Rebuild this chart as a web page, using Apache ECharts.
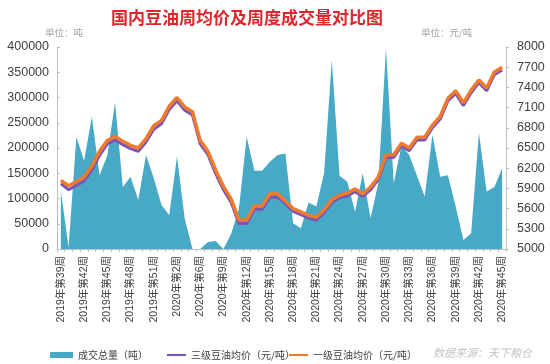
<!DOCTYPE html>
<html>
<head>
<meta charset="utf-8">
<script src="https://cdn.jsdelivr.net/npm/echarts@6/dist/echarts.min.js"></script>
<style>
html,body{margin:0;padding:0;background:#fff;}
#chart{width:550px;height:364px;}
</style>
</head>
<body>
<div id="chart"></div>
<script>
const categories = [
"2019年第39周","2019年第40周","2019年第41周","2019年第42周","2019年第43周","2019年第44周","2019年第45周",
"2019年第46周","2019年第47周","2019年第48周","2019年第49周","2019年第50周","2019年第51周","2019年第52周",
"2020年第1周","2020年第2周","2020年第3周","2020年第5周","2020年第6周","2020年第7周","2020年第8周",
"2020年第9周","2020年第10周","2020年第11周","2020年第12周","2020年第13周","2020年第14周","2020年第15周",
"2020年第16周","2020年第17周","2020年第18周","2020年第19周","2020年第20周","2020年第21周","2020年第22周",
"2020年第23周","2020年第24周","2020年第25周","2020年第26周","2020年第27周","2020年第28周","2020年第29周",
"2020年第30周","2020年第31周","2020年第32周","2020年第33周","2020年第34周","2020年第35周","2020年第36周",
"2020年第37周","2020年第38周","2020年第39周","2020年第40周","2020年第41周","2020年第42周","2020年第43周",
"2020年第44周","2020年第45周"
];
const volume = [
115000,3000,222000,175000,262000,146000,185000,290000,123000,143000,97000,186000,140000,87000,
67000,183000,60000,0,0,14000,16000,0,30000,80000,222000,155000,155000,173000,186000,189000,
51000,41000,92000,84000,150000,374000,145000,133000,74000,150000,61000,130000,397000,130000,
205000,186000,145000,104000,226000,143000,146000,84000,18000,31000,230000,114000,123000,160000
];
const grade3Price = [
5970,5880,5945,6010,6170,6390,6560,6620,6550,6490,6450,6590,6780,6860,7070,7200,7060,6990,6560,
6400,6120,5880,5690,5380,5380,5590,5590,5770,5770,5670,5560,5510,5460,5430,5540,5690,5760,5790,
5850,5780,5880,6030,6360,6360,6530,6460,6620,6620,6800,6930,7200,7310,7130,7320,7470,7350,7590,7660
];
const grade1Price = [
6020,5940,6000,6070,6230,6450,6610,6670,6600,6540,6500,6640,6830,6910,7120,7250,7110,7040,6610,
6450,6170,5930,5740,5430,5430,5640,5640,5820,5820,5710,5600,5550,5500,5470,5580,5730,5800,5830,
5890,5820,5920,6070,6400,6400,6570,6500,6660,6660,6840,6970,7240,7350,7170,7360,7510,7390,7630,7700
];
const rightTicks = [5000,5300,5600,5900,6200,6500,6800,7100,7400,7700,8000];
const seriesNames = ["成交总量（吨）","三级豆油均价（元/吨）","一级豆油均价（元/吨）"];

const FONT = '"Liberation Sans","Noto Sans CJK SC",sans-serif';
const CJK = '"Noto Sans CJK SC",sans-serif';
const legendText = {color:'#404040', fontSize:10, fontFamily:CJK};
const lineIcon = 'path://M0,0L36,0L36,4L0,4Z';
const chart = echarts.init(document.getElementById('chart'), null, {renderer:'canvas'});
chart.setOption({
  animation:false,
  backgroundColor:'#fff',
  title:{
    text:'国内豆油周均价及周度成交量对比图',
    left:106, top:4,
    textStyle:{color:'#e0262d', fontSize:17, fontWeight:'bold', fontFamily:CJK}
  },
  graphic:[
    {type:'text', left:45, top:28, style:{text:'单位：吨', fill:'#a6a6a6', fontSize:9.5, fontFamily:CJK}},
    {type:'text', left:421, top:28, style:{text:'单位：元/吨', fill:'#a6a6a6', fontSize:9.5, fontFamily:CJK}},
    {type:'text', left:433, top:347, style:{text:'数据来源：天下粮仓', fill:'#c4c4c4', fontSize:11, fontStyle:'italic', fontFamily:CJK}}
  ],
  legend:[
    {left:45, top:345, itemWidth:23, itemHeight:6, itemGap:3, textStyle:legendText,
     data:[{name:seriesNames[0], icon:'rect'}]},
    {left:162, top:345, itemWidth:19, itemHeight:6, itemGap:3, textStyle:legendText,
     data:[{name:seriesNames[1], icon:lineIcon}]},
    {left:284, top:345, itemWidth:19, itemHeight:6, itemGap:3, textStyle:legendText,
     data:[{name:seriesNames[2], icon:lineIcon}]}
  ],
  grid:{left:57, right:44, top:47, bottom:115},
  xAxis:{
    type:'category', data:categories, boundaryGap:true,
    axisLine:{lineStyle:{color:'#bfbfbf'}},
    axisTick:{show:true, interval:0, length:3, lineStyle:{color:'#bfbfbf'}},
    axisLabel:{interval:2, rotate:90, color:'#404040', fontSize:10.5, fontFamily:FONT, margin:7}
  },
  yAxis:[
    {
      type:'value', min:0, max:400000, interval:50000, position:'left',
      splitLine:{show:false},
      axisLine:{show:true, lineStyle:{color:'#bfbfbf'}},
      axisTick:{show:true, inside:true, length:3, lineStyle:{color:'#bfbfbf'}},
      axisLabel:{color:'#404040', fontSize:12.5, fontFamily:FONT, margin:8, formatter:function(v){return String(v);}}
    },
    {
      type:'value', min:5000, max:8000, position:'right',
      splitLine:{show:false},
      axisLine:{show:true, lineStyle:{color:'#bfbfbf'}},
      axisTick:{show:true, length:3, customValues:rightTicks, lineStyle:{color:'#bfbfbf'}},
      axisLabel:{color:'#404040', fontSize:12.5, fontFamily:FONT, margin:11, customValues:rightTicks, formatter:function(v){return String(v);}}
    }
  ],
  series:[
    {
      name:seriesNames[0], type:'line', yAxisIndex:0, data:volume,
      symbol:'none', color:'#47a9c5',
      lineStyle:{width:0}, areaStyle:{color:'#47a9c5', opacity:1}
    },
    {
      name:seriesNames[1], type:'line', yAxisIndex:1, data:grade3Price,
      symbol:'none', color:'#7a55b4', lineStyle:{width:3, color:'#7a55b4'}
    },
    {
      name:seriesNames[2], type:'line', yAxisIndex:1, data:grade1Price,
      symbol:'none', color:'#ee7a2e', lineStyle:{width:3.5, color:'#ee7a2e'}
    }
  ]
});
</script>
</body>
</html>
